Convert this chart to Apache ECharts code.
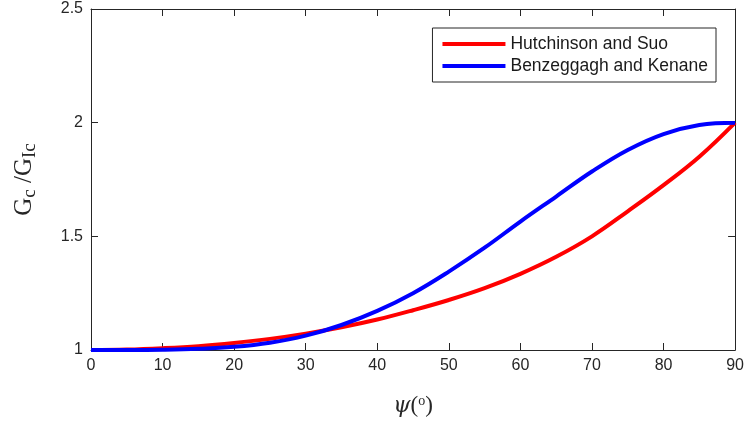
<!DOCTYPE html>
<html>
<head>
<meta charset="utf-8">
<script src="https://cdn.jsdelivr.net/npm/echarts@6/dist/echarts.min.js"></script>
<style>
html,body{margin:0;padding:0;background:#fff;}
#chart{width:747px;height:424px;}
</style>
</head>
<body>
<div id="chart"></div>
<script>
// mode mixity angle (deg)
var psiDeg = [0, 5, 10, 15, 20, 25, 30, 35, 40, 45, 50, 55, 60, 65, 70, 75, 80, 85, 90];
// Gc/GIc
var hsRatio = [1.000, 1.002, 1.008, 1.017, 1.031, 1.049, 1.072, 1.100, 1.134, 1.175, 1.220, 1.272, 1.335, 1.410, 1.500, 1.610, 1.725, 1.850, 2.000];
var bkRatio = [1.000, 1.000, 1.001, 1.005, 1.014, 1.032, 1.063, 1.110, 1.172, 1.250, 1.345, 1.450, 1.565, 1.675, 1.785, 1.880, 1.950, 1.990, 2.000];
var seriesNames = ['Hutchinson and Suo', 'Benzeggagh and Kenane'];

function pairs(ys){
	var out = [];
	for (var i = 0; i < psiDeg.length; i++) out.push([psiDeg[i], ys[i]]);
	return out;
}

(function(){
	var myChart = echarts.init(document.getElementById('chart'));
	var axisCol = '#262626';
	var lbl = {color: axisCol, fontSize: 16, margin: 8, fontFamily: 'Liberation Sans, Arial, sans-serif'};
	var line = {show: true, onZero: false, lineStyle: {color: axisCol, width: 1}};
	//刻度朝内,四边都有
	var tick = {show: true, inside: true, length: 7, lineStyle: {color: axisCol, width: 1}};

	var option = {
		animation: false,
		grid: {left: 91, right: 11, top: 9, bottom: 74},
		legend: {
			orient: 'vertical',
			right: 31,
			top: 28,
			padding: [7, 8, 7, 10],
			itemGap: 4,
			itemWidth: 63,
			itemHeight: 4,
			icon: 'rect',
			backgroundColor: '#fff',
			borderColor: axisCol,
			borderWidth: 1,
			textStyle: {color: '#1a1a1a', fontSize: 17.5, fontFamily: 'Liberation Sans, Arial, sans-serif'},
			data: seriesNames
		},
		xAxis: [{
			type: 'value', min: 0, max: 90, interval: 10, position: 'bottom',
			name: '{i|ψ}{n|(}{s|o}{n|)}',
			nameLocation: 'middle', nameGap: 44,
			nameTextStyle: {
				rich: {
					i: {fontFamily: 'DejaVu Serif, serif', fontStyle: 'italic', fontSize: 22, color: axisCol},
					n: {fontFamily: 'Liberation Serif, serif', fontSize: 23, color: axisCol},
					s: {fontFamily: 'Liberation Serif, serif', fontSize: 14, color: axisCol, padding: [0, 0, 10, 0]}
				}
			},
			axisLine: line,
			axisTick: tick,
			axisLabel: lbl,
			splitLine: {show: false}
		}, {
			type: 'value', min: 0, max: 90, interval: 10, position: 'top',
			axisLine: line,
			axisTick: tick,
			axisLabel: {show: false},
			splitLine: {show: false}
		}],
		yAxis: [{
			type: 'value', min: 1, max: 2.5, interval: 0.5, position: 'left',
			name: '{g|G}{s|c}{g| /G}{s|Ic}',
			nameLocation: 'middle', nameGap: 51, nameRotate: 90,
			nameTextStyle: {
				rich: {
					g: {fontFamily: 'Liberation Serif, serif', fontSize: 25, color: axisCol},
					s: {fontFamily: 'Liberation Serif, serif', fontSize: 19, color: axisCol, padding: [12, 0, 0, 0]}
				}
			},
			axisLine: line,
			axisTick: tick,
			axisLabel: lbl,
			splitLine: {show: false}
		}, {
			type: 'value', min: 1, max: 2.5, interval: 0.5, position: 'right',
			axisLine: line,
			axisTick: tick,
			axisLabel: {show: false},
			splitLine: {show: false}
		}],
		series: [{
			name: seriesNames[0],
			type: 'line',
			data: pairs(hsRatio),
			smooth: 0.4,
			showSymbol: false,
			symbol: 'none',
			lineStyle: {color: '#ff0000', width: 4},
			itemStyle: {color: '#ff0000'}
		}, {
			name: seriesNames[1],
			type: 'line',
			data: pairs(bkRatio),
			smooth: 0.4,
			showSymbol: false,
			symbol: 'none',
			lineStyle: {color: '#0000ff', width: 4},
			itemStyle: {color: '#0000ff'}
		}]
	};
	myChart.setOption(option);
	window.addEventListener('resize', function(){
		myChart.resize();
	});
})();
</script>
</body>
</html>
